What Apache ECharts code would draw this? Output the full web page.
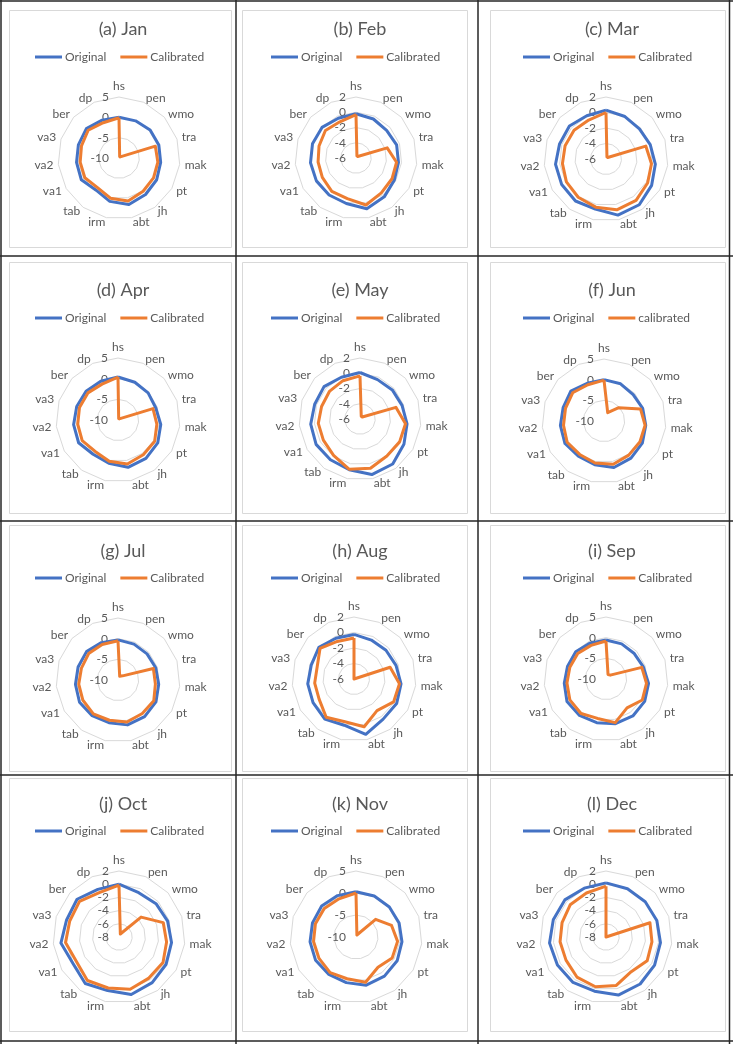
<!DOCTYPE html>
<html>
<head>
<meta charset="utf-8">
<script src="https://cdn.jsdelivr.net/npm/echarts@6/dist/echarts.min.js"></script>
<style>
  html, body { margin: 0; padding: 0; background: #fff; }
  #chart { width: 733px; height: 1044px; }
</style>
</head>
<body>
<div id="chart"></div>
<script>
// indicator names, clockwise from the top
const indicators = ['hs', 'pen', 'wmo', 'tra', 'mak', 'pt', 'jh', 'abt', 'irm', 'tab', 'va1', 'va2', 'va3', 'ber', 'dp'];

const panelTitles = ['(a) Jan', '(b) Feb', '(c) Mar', '(d) Apr', '(e) May', '(f) Jun',
  '(g) Jul', '(h) Aug', '(i) Sep', '(j) Oct', '(k) Nov', '(l) Dec'];
const calibratedNames = ['Calibrated', 'Calibrated', 'Calibrated', 'Calibrated', 'Calibrated', 'calibrated',
  'Calibrated', 'Calibrated', 'Calibrated', 'Calibrated', 'Calibrated', 'Calibrated'];
const axisMin = [-10, -6, -6, -10, -6, -10, -10, -6, -10, -8, -10, -8];
const axisMax = [5, 2, 2, 5, 2, 5, 5, 2, 5, 2, 5, 2];
const axisSplits = [3, 4, 4, 3, 4, 3, 3, 4, 3, 5, 3, 5];

const janOriginal = [0, 0, 0.3, 0.3, 0.3, 0.7, 1.1, 1.7, 0.9, -0.3, 0.7, 0.5, 0.5, 0.8, 0.2];
const janCalibrated = [-0.1, -9.6, -9.6, -0.6, -0.4, -0.2, 0.1, 0.8, 0.1, -1.0, -0.3, -0.4, -0.3, 0.2, -0.5];
const febOriginal = [-0.2, -0.4, -0.6, -0.4, -0.4, -0.2, 0.3, 0.8, 0.1, 0, 0, 0, 0, 0, -0.3];
const febCalibrated = [-0.3, -5.7, -5.7, -1.7, -0.65, -0.55, -0.35, 0.3, -0.55, -0.6, -0.9, -1.0, -0.9, -0.6, -0.8];
const marOriginal = [0.3, 0, -0.2, 0, 0.4, 0.8, 1.3, 1.4, 0.6, 0.7, 0.6, 0.55, 0.3, 0.35, 0.1];
const marCalibrated = [0, -5.7, -5.7, -0.6, -0.1, 0.2, 0.6, 0.7, 0.35, 0.1, -0.1, -0.35, -0.45, -0.45, -0.5];
const aprOriginal = [0.4, 0, -0.2, -0.4, 0.4, 1.1, 1.5, 1.7, 0.7, 0.25, 1.0, 0.8, 0.5, 0.4, 0.25];
const aprCalibrated = [0.4, -9.6, -9.6, -1.1, -0.55, 0.25, 0.4, 0.9, 0.2, -0.6, 0, -0.2, -0.2, -0.2, -0.5];
const mayOriginal = [0.1, -0.35, -0.3, -0.2, 0.2, 0.65, 1.3, 1.45, 0.8, 0.6, 0.65, 0.5, 0.25, 0.35, 0];
const mayCalibrated = [-0.35, -5.6, -5.6, -1.05, 0, 0, 0, 0.6, 0.75, -0.1, -0.45, -0.5, -0.7, -0.6, -0.5];
const junOriginal = [0, -0.15, -0.5, -0.15, 0.15, 0.7, 1.1, 1.5, 0.8, 0.55, 0.9, 0.6, 0.4, 0.8, 0];
const junCalibrated = [-0.1, -7.8, -5.2, -0.7, 0, 0.05, 0.2, 0.7, 0.4, 0, 0.3, -0.15, -0.2, 0.2, -0.4];
const julOriginal = [-0.3, -0.5, -0.55, -0.4, -0.1, 0.6, 0.95, 1.1, 0.55, 0.65, 0.75, 0.35, 0.15, 0.25, -0.1];
const julCalibrated = [-0.5, -9, -8.5, -1, -0.9, 0, 0, 0.4, -0.05, 0.15, -0.2, -0.45, -0.7, -0.45, -0.6];
const augOriginal = [-0.25, -0.5, -0.45, -0.3, 0.1, 0.35, 0.4, 1.3, 0.1, 0.4, 0.1, 0, -0.2, 0.1, -0.25];
const augCalibrated = [-0.7, -6, -6, -1.1, -0.1, -0.1, -0.95, 0.3, -0.35, 0.1, -0.8, -0.9, -1, -0.1, -0.7];
const sepOriginal = [-0.55, -0.7, -0.8, -0.5, 0.35, 0.8, 1.05, 1.05, 0.8, 0.9, 0.9, 0.15, -0.2, -0.15, -0.5];
const sepCalibrated = [-0.8, -8.8, -8.6, -0.9, -0.15, 0.15, -1.35, 0.8, -0.25, 0.3, 0.1, -0.5, -0.8, -0.8, -1.1];
const octOriginal = [0, -0.65, -0.45, -0.25, 0, 0.25, 0.55, 0.9, 0.3, 0.7, 0.05, 0.85, 0.35, 0.55, -0.1];
const octCalibrated = [-0.15, -7.5, -3.5, -0.95, -0.75, -0.3, -0.3, 0.1, -0.1, 0.15, -0.55, 0.15, -0.15, 0.05, -0.65];
const novOriginal = [0.3, 0.2, 0.2, 0.3, 0.5, 0.8, 1.0, 1.2, 0.6, 0.5, 0.6, 0.5, 0.4, 0.5, 0.3];
const novCalibrated = [0, -9.5, -4, -1.5, -0.5, -0.5, -1.5, 0.5, -0.3, 0, -0.3, -0.3, -0.3, -0.3, -0.5];
const decOriginal = [0.2, 0, 0, 0.1, 0.3, 0.5, 0.8, 1.0, 0.4, 0.5, 0.5, 0.6, 0.4, 0.4, 0.1];
const decCalibrated = [-0.3, -8, -8, -1, -1, -0.8, -1.5, -0.5, -0.3, -0.5, -1, -1, -1, -0.7, -0.7];

const originalSets = [janOriginal, febOriginal, marOriginal, aprOriginal, mayOriginal, junOriginal,
  julOriginal, augOriginal, sepOriginal, octOriginal, novOriginal, decOriginal];
const calibratedSets = [janCalibrated, febCalibrated, marCalibrated, aprCalibrated, mayCalibrated, junCalibrated,
  julCalibrated, augCalibrated, sepCalibrated, octCalibrated, novCalibrated, decCalibrated];

// layout (pixels)
const colX = [118, 355, 607];
const legendX = [35, 271, 523];
const rowTitleY = [26, 287, 548, 801];
const rowLegendY = [58, 319, 579, 832];
const radarCenters = [[119, 158], [356, 158], [606, 159], [118, 420], [360, 419], [604, 421],
  [118, 680], [354, 679], [606, 679], [119, 937], [356, 937], [606, 937]];
const radarRadius = [61, 61, 62, 62, 61, 62, 62, 62, 62, 66, 66, 66];

const BLUE = '#4472C4';
const ORANGE = '#ED7D31';
const TEXT = '#595959';
const FONT = 'Lato, "Open Sans", sans-serif';

// ECharts lays indicators out counter-clockwise, the picture runs clockwise
const order = [0].concat(indicators.map((d, i) => i).slice(1).reverse());
const reorder = arr => order.map(k => arr[k]);

const radars = [], series = [], titles = [], legends = [];
panelTitles.forEach((t, i) => {
  const col = i % 3, row = Math.floor(i / 3);
  radars.push({
    center: radarCenters[i],
    radius: radarRadius[i],
    startAngle: 90,
    splitNumber: axisSplits[i],
    shape: 'polygon',
    indicator: order.map((k, j) => {
      const ind = { name: indicators[k], min: axisMin[i], max: axisMax[i] };
      if (j === 0) ind.axisLabel = { show: true };
      return ind;
    }),
    axisName: { color: TEXT, fontSize: 12, fontFamily: FONT },
    axisNameGap: 5,
    axisLine: { show: false },
    axisTick: { show: false },
    axisLabel: { show: false, color: TEXT, fontSize: 12, fontFamily: FONT, margin: 10, padding: [6, 0, 0, 0] },
    splitLine: { lineStyle: { color: '#d9d9d9', width: 1 } },
    splitArea: { show: false }
  });
  series.push({
    type: 'radar',
    radarIndex: i,
    symbol: 'none',
    silent: true,
    data: [
      { name: 'Original', value: reorder(originalSets[i]),
        itemStyle: { color: BLUE }, lineStyle: { color: BLUE, width: 3 } },
      { name: calibratedNames[i], value: reorder(calibratedSets[i]),
        itemStyle: { color: ORANGE }, lineStyle: { color: ORANGE, width: 3 } }
    ]
  });
  titles.push({
    text: t,
    left: colX[col],
    top: rowTitleY[row] - 11,
    textAlign: 'center',
    textStyle: { color: TEXT, fontSize: 18, fontWeight: 'normal', fontFamily: FONT }
  });
  legends.push({
    data: ['Original', calibratedNames[i]],
    left: legendX[col],
    top: rowLegendY[row] - 7,
    icon: 'rect',
    itemWidth: 27,
    itemHeight: 3,
    itemGap: 14,
    selectedMode: false,
    padding: 0,
    textStyle: { color: TEXT, fontSize: 12, fontFamily: FONT, padding: [0, 0, 0, -2] }
  });
});

// table rules and the chart-area frames
const hLines = [1, 256, 521, 775, 1041];
const vLines = [1, 236, 478, 729.5];
const boxCols = [[9, 231], [242, 467], [490, 725]];
const boxRows = [[10, 247], [262, 513], [525, 771], [778, 1031]];
const graphics = [];
hLines.forEach(y => graphics.push({ type: 'line', shape: { x1: 0, y1: y, x2: 733, y2: y },
  style: { stroke: '#262626', lineWidth: 1.5 }, silent: true }));
vLines.forEach(x => graphics.push({ type: 'line', shape: { x1: x, y1: 0, x2: x, y2: 1044 },
  style: { stroke: '#262626', lineWidth: 1.5 }, silent: true }));
boxRows.forEach(([y0, y1]) => boxCols.forEach(([x0, x1]) => {
  graphics.push({ type: 'rect', shape: { x: x0 + 0.5, y: y0 + 0.5, width: x1 - x0, height: y1 - y0 },
    style: { fill: null, stroke: '#d9d9d9', lineWidth: 1 }, silent: true, z: -1 });
}));

const chart = echarts.init(document.getElementById('chart'));
chart.setOption({
  animation: false,
  backgroundColor: '#fff',
  title: titles,
  legend: legends,
  radar: radars,
  series: series,
  graphic: graphics
});
</script>
</body>
</html>
